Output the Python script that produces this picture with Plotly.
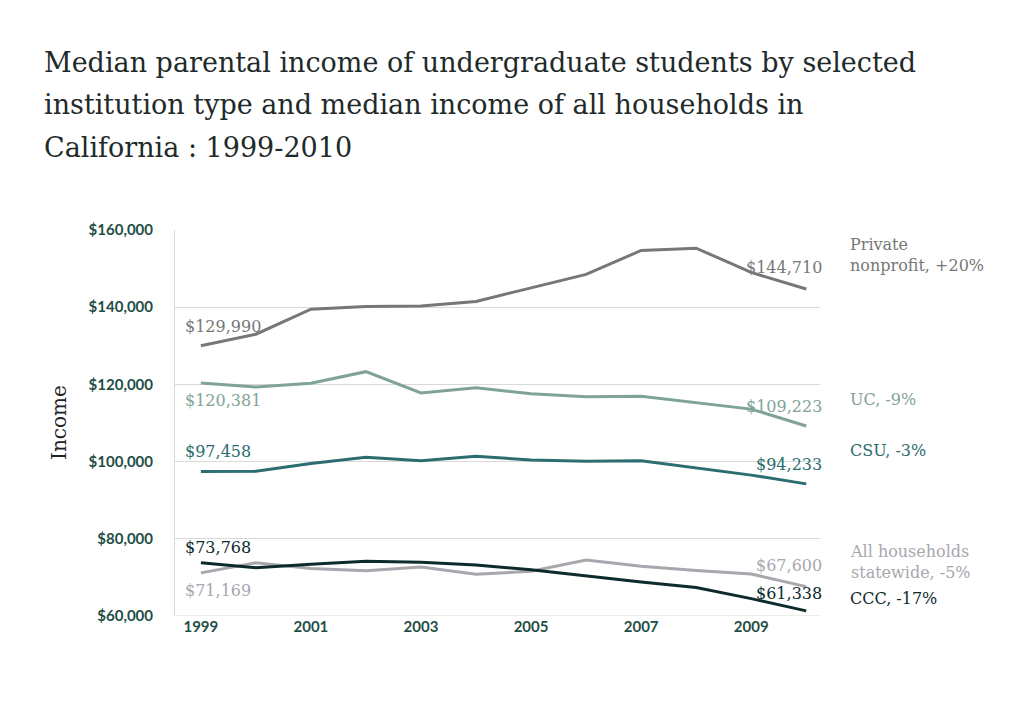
import plotly.graph_objects as go

years = list(range(1999, 2011))
private = [129990,133000,139500,140200,140300,141500,145000,148500,154700,155300,149000,144710]
uc = [120381,119300,120300,123300,117800,119100,117600,116800,116900,115200,113600,109223]
csu = [97458,97500,99500,101100,100200,101400,100400,100100,100200,98400,96500,94233]
allhh = [71169,73800,72300,71700,72700,70800,71600,74500,72900,71800,70900,67600]
ccc = [73768,72500,73400,74200,73900,73200,72000,70400,68800,67400,64500,61338]
title_lines = ["Median parental income of undergraduate students by selected",
               "institution type and median income of all households in",
               "California : 1999-2010"]

series = [
    ("Private<br>nonprofit, +20%", private, "#757877"),
    ("UC, -9%", uc, "#7fa396"),
    ("CSU, -3%", csu, "#2b6d70"),
    ("All households<br>statewide, -5%", allhh, "#a9a6ae"),
    ("CCC, -17%", ccc, "#0d2b2c"),
]
serif = "DejaVu Serif"
W, H, L, R, T, B = 1024, 704, 167, 212, 222, 96
OFF = 8
fig = go.Figure()
for name, vals, col in series:
    fig.add_trace(go.Scatter(x=years, y=vals, mode="lines", line=dict(color=col, width=3), showlegend=False))

ann = []
def lab(x, y, text, col, xa="center", ya="bottom", yshift=0, xshift=0):
    ann.append(dict(x=x, y=y, text=text, showarrow=False, xanchor=xa, yanchor=ya, yshift=yshift, xshift=xshift,
                    font=dict(family=serif, size=16, color=col)))
def fmt(v): return "${:,}".format(v)
lab(1999, private[0], fmt(private[0]), "#757877", xa="left", yshift=8, xshift=-18)
lab(2010, private[-1], fmt(private[-1]), "#757877", xa="right", yshift=10, xshift=18)
lab(1999, uc[0], fmt(uc[0]), "#7fa396", xa="left", ya="top", yshift=-6, xshift=-18)
lab(2010, uc[-1], fmt(uc[-1]), "#7fa396", xa="right", yshift=8, xshift=18)
lab(1999, csu[0], fmt(csu[0]), "#2b6d70", xa="left", yshift=8, xshift=-18)
lab(2010, csu[-1], fmt(csu[-1]), "#2b6d70", xa="right", yshift=8, xshift=18)
lab(1999, ccc[0], fmt(ccc[0]), "#0d2b2c", xa="left", yshift=4, xshift=-18)
lab(2010, ccc[-1], fmt(ccc[-1]), "#0d2b2c", xa="right", yshift=6, xshift=18)
lab(1999, allhh[0], fmt(allhh[0]), "#a9a6ae", xa="left", ya="top", yshift=-6, xshift=-18)
lab(2010, allhh[-1], fmt(allhh[-1]), "#a9a6ae", xa="right", yshift=10, xshift=18)
right_y = [(series[0], 153500), (series[1], 116200), (series[2], 103000), (series[3], 74000), (series[4], 64500)]
for (name, vals, col), yv in right_y:
    ann.append(dict(xref="paper", x=(848 - OFF - L) / (W - L - R), y=yv, text=name, showarrow=False,
                    xanchor="left", yanchor="middle", align="left",
                    font=dict(family=serif, size=16, color=col)))
ann.append(dict(xref="paper", yref="paper", x=(45 - OFF - L) / (W - L - R), y=0.5, text="Income",
                textangle=-90, showarrow=False, font=dict(family=serif, size=20, color="#222")))
ph = H - T - B
for i, t in enumerate(title_lines):
    ypix = 62 + 43 * i - OFF
    ann.append(dict(xref="paper", yref="paper", x=(42 - OFF - L) / (W - L - R), y=(H - B - ypix) / ph,
                    text=t, showarrow=False, xanchor="left", yanchor="middle",
                    font=dict(family=serif, size=27, color="#1f2a2a")))

fig.update_layout(
    width=W, height=H, plot_bgcolor="white", paper_bgcolor="white",
    margin=dict(l=L, r=R, t=T, b=B),
    annotations=ann,
    xaxis=dict(range=[1998.53, 2010.25], tickvals=[1999,2001,2003,2005,2007,2009], showgrid=False,
               zeroline=False, showline=False, ticks="",
               tickfont=dict(family="Lato", size=15, color="#1f4e45", weight="bold")),
    yaxis=dict(range=[60000, 160000], tickvals=[60000,80000,100000,120000,140000,160000],
               tickformat="$,.0f", showgrid=True, gridcolor="#d9d9d9", zeroline=False,
               showline=True, linecolor="#d9d9d9", ticks="", ticklabelstandoff=18,
               tickfont=dict(family="Lato", size=15, color="#1f4e45", weight="bold")),
)
fig.add_hline(y=60000, line_color="#d9d9d9", line_width=1)
fig.write_html("out.html")
